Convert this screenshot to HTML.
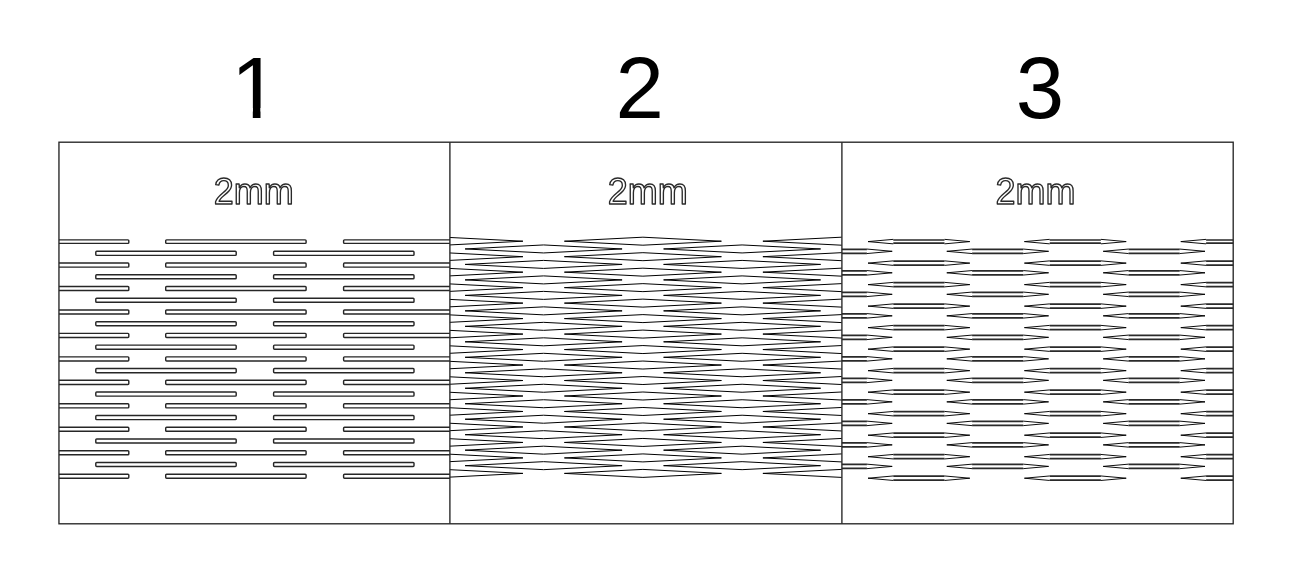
<!DOCTYPE html>
<html lang="en"><head><meta charset="utf-8"><title>Living hinge patterns 1 2 3 - 2mm</title>
<style>html,body{margin:0;padding:0;background:#fff}body{width:1296px;height:573px;overflow:hidden}svg{display:block}.num{font-family:"Liberation Sans",Arial,sans-serif;font-size:87px;fill:#000}.mm{font-family:"Liberation Sans",Arial,sans-serif;font-size:36px;fill:none;stroke:#2a2a2a;stroke-width:1.35;stroke-linejoin:round}.b{fill:none;stroke:#262626;stroke-width:1.35}.s1{fill:none;stroke:#262626;stroke-width:1.45}.s2{fill:none;stroke:#000;stroke-width:1;stroke-linejoin:miter}.s3{fill:none;stroke:#2a2a2a;stroke-width:1.7}.s3t{fill:none;stroke:#000;stroke-width:0.95}</style></head><body>
<svg width="1296" height="573" viewBox="0 0 1296 573">
<rect width="1296" height="573" fill="#fff"/>
<defs>
<clipPath id="c1"><rect x="58.95" y="142.2" width="390.95" height="381.6"/></clipPath>
<clipPath id="c2"><rect x="449.9" y="142.2" width="392" height="381.6"/></clipPath>
<clipPath id="c3"><rect x="841.9" y="142.2" width="391.3" height="381.6"/></clipPath>
</defs>
<defs><clipPath id="k1"><path d="M200 20H320V108H260.5V125H252.8V108H200Z"/></clipPath></defs>
<text class="num" x="230.9" y="118.4" clip-path="url(#k1)">1</text>
<text class="num" x="615.6" y="118.4">2</text>
<text class="num" x="1015.7" y="118.4">3</text>
<defs><filter id="nf" x="0" y="0" width="1296" height="573" filterUnits="userSpaceOnUse"><feOffset dx="0" dy="0"/></filter></defs>
<g filter="url(#nf)">
<text class="mm" x="213.8" y="204.2">2mm</text>
<text class="mm" x="607.8" y="204.2">2mm</text>
<text class="mm" x="995.5" y="204.2">2mm</text>
</g>
<g clip-path="url(#c1)" class="s1">
<rect x="-11.6" y="239.85" width="140.4" height="3.5" rx="0.9"/>
<rect x="165.7" y="239.85" width="140.4" height="3.5" rx="0.9"/>
<rect x="343.6" y="239.85" width="140.4" height="3.5" rx="0.9"/>
<rect x="95.8" y="251.28" width="140.4" height="4.1" rx="0.9"/>
<rect x="273.6" y="251.28" width="140.4" height="4.1" rx="0.9"/>
<rect x="-11.6" y="263.01" width="140.4" height="4.1" rx="0.9"/>
<rect x="165.7" y="263.01" width="140.4" height="4.1" rx="0.9"/>
<rect x="343.6" y="263.01" width="140.4" height="4.1" rx="0.9"/>
<rect x="95.8" y="274.74" width="140.4" height="4.1" rx="0.9"/>
<rect x="273.6" y="274.74" width="140.4" height="4.1" rx="0.9"/>
<rect x="-11.6" y="286.47" width="140.4" height="4.1" rx="0.9"/>
<rect x="165.7" y="286.47" width="140.4" height="4.1" rx="0.9"/>
<rect x="343.6" y="286.47" width="140.4" height="4.1" rx="0.9"/>
<rect x="95.8" y="298.2" width="140.4" height="4.1" rx="0.9"/>
<rect x="273.6" y="298.2" width="140.4" height="4.1" rx="0.9"/>
<rect x="-11.6" y="309.93" width="140.4" height="4.1" rx="0.9"/>
<rect x="165.7" y="309.93" width="140.4" height="4.1" rx="0.9"/>
<rect x="343.6" y="309.93" width="140.4" height="4.1" rx="0.9"/>
<rect x="95.8" y="321.66" width="140.4" height="4.1" rx="0.9"/>
<rect x="273.6" y="321.66" width="140.4" height="4.1" rx="0.9"/>
<rect x="-11.6" y="333.39" width="140.4" height="4.1" rx="0.9"/>
<rect x="165.7" y="333.39" width="140.4" height="4.1" rx="0.9"/>
<rect x="343.6" y="333.39" width="140.4" height="4.1" rx="0.9"/>
<rect x="95.8" y="345.12" width="140.4" height="4.1" rx="0.9"/>
<rect x="273.6" y="345.12" width="140.4" height="4.1" rx="0.9"/>
<rect x="-11.6" y="356.85" width="140.4" height="4.1" rx="0.9"/>
<rect x="165.7" y="356.85" width="140.4" height="4.1" rx="0.9"/>
<rect x="343.6" y="356.85" width="140.4" height="4.1" rx="0.9"/>
<rect x="95.8" y="368.58" width="140.4" height="4.1" rx="0.9"/>
<rect x="273.6" y="368.58" width="140.4" height="4.1" rx="0.9"/>
<rect x="-11.6" y="380.31" width="140.4" height="4.1" rx="0.9"/>
<rect x="165.7" y="380.31" width="140.4" height="4.1" rx="0.9"/>
<rect x="343.6" y="380.31" width="140.4" height="4.1" rx="0.9"/>
<rect x="95.8" y="392.04" width="140.4" height="4.1" rx="0.9"/>
<rect x="273.6" y="392.04" width="140.4" height="4.1" rx="0.9"/>
<rect x="-11.6" y="403.77" width="140.4" height="4.1" rx="0.9"/>
<rect x="165.7" y="403.77" width="140.4" height="4.1" rx="0.9"/>
<rect x="343.6" y="403.77" width="140.4" height="4.1" rx="0.9"/>
<rect x="95.8" y="415.5" width="140.4" height="4.1" rx="0.9"/>
<rect x="273.6" y="415.5" width="140.4" height="4.1" rx="0.9"/>
<rect x="-11.6" y="427.23" width="140.4" height="4.1" rx="0.9"/>
<rect x="165.7" y="427.23" width="140.4" height="4.1" rx="0.9"/>
<rect x="343.6" y="427.23" width="140.4" height="4.1" rx="0.9"/>
<rect x="95.8" y="438.96" width="140.4" height="4.1" rx="0.9"/>
<rect x="273.6" y="438.96" width="140.4" height="4.1" rx="0.9"/>
<rect x="-11.6" y="450.69" width="140.4" height="4.1" rx="0.9"/>
<rect x="165.7" y="450.69" width="140.4" height="4.1" rx="0.9"/>
<rect x="343.6" y="450.69" width="140.4" height="4.1" rx="0.9"/>
<rect x="95.8" y="462.42" width="140.4" height="4.1" rx="0.9"/>
<rect x="273.6" y="462.42" width="140.4" height="4.1" rx="0.9"/>
<rect x="-11.6" y="474.15" width="140.4" height="4.1" rx="0.9"/>
<rect x="165.7" y="474.15" width="140.4" height="4.1" rx="0.9"/>
<rect x="343.6" y="474.15" width="140.4" height="4.1" rx="0.9"/>
</g>
<g clip-path="url(#c2)" class="s2">
<path d="M365.9 241.2L444.4 237.2L522.9 241.2L444.4 245.2ZM564.4 241.2L642.9 237.2L721.4 241.2L642.9 245.2ZM762.9 241.2L841.4 237.2L919.9 241.2L841.4 245.2ZM465.1 248.94L543.6 244.94L622.1 248.94L543.6 252.94ZM663.6 248.94L742.1 244.94L820.6 248.94L742.1 252.94ZM365.9 256.68L444.4 252.68L522.9 256.68L444.4 260.68ZM564.4 256.68L642.9 252.68L721.4 256.68L642.9 260.68ZM762.9 256.68L841.4 252.68L919.9 256.68L841.4 260.68ZM465.1 264.42L543.6 260.42L622.1 264.42L543.6 268.42ZM663.6 264.42L742.1 260.42L820.6 264.42L742.1 268.42ZM365.9 272.16L444.4 268.16L522.9 272.16L444.4 276.16ZM564.4 272.16L642.9 268.16L721.4 272.16L642.9 276.16ZM762.9 272.16L841.4 268.16L919.9 272.16L841.4 276.16ZM465.1 279.9L543.6 275.9L622.1 279.9L543.6 283.9ZM663.6 279.9L742.1 275.9L820.6 279.9L742.1 283.9ZM365.9 287.64L444.4 283.64L522.9 287.64L444.4 291.64ZM564.4 287.64L642.9 283.64L721.4 287.64L642.9 291.64ZM762.9 287.64L841.4 283.64L919.9 287.64L841.4 291.64ZM465.1 295.38L543.6 291.38L622.1 295.38L543.6 299.38ZM663.6 295.38L742.1 291.38L820.6 295.38L742.1 299.38ZM365.9 303.12L444.4 299.12L522.9 303.12L444.4 307.12ZM564.4 303.12L642.9 299.12L721.4 303.12L642.9 307.12ZM762.9 303.12L841.4 299.12L919.9 303.12L841.4 307.12ZM465.1 310.86L543.6 306.86L622.1 310.86L543.6 314.86ZM663.6 310.86L742.1 306.86L820.6 310.86L742.1 314.86ZM365.9 318.6L444.4 314.6L522.9 318.6L444.4 322.6ZM564.4 318.6L642.9 314.6L721.4 318.6L642.9 322.6ZM762.9 318.6L841.4 314.6L919.9 318.6L841.4 322.6ZM465.1 326.34L543.6 322.34L622.1 326.34L543.6 330.34ZM663.6 326.34L742.1 322.34L820.6 326.34L742.1 330.34ZM365.9 334.08L444.4 330.08L522.9 334.08L444.4 338.08ZM564.4 334.08L642.9 330.08L721.4 334.08L642.9 338.08ZM762.9 334.08L841.4 330.08L919.9 334.08L841.4 338.08ZM465.1 341.82L543.6 337.82L622.1 341.82L543.6 345.82ZM663.6 341.82L742.1 337.82L820.6 341.82L742.1 345.82ZM365.9 349.56L444.4 345.56L522.9 349.56L444.4 353.56ZM564.4 349.56L642.9 345.56L721.4 349.56L642.9 353.56ZM762.9 349.56L841.4 345.56L919.9 349.56L841.4 353.56ZM465.1 357.3L543.6 353.3L622.1 357.3L543.6 361.3ZM663.6 357.3L742.1 353.3L820.6 357.3L742.1 361.3ZM365.9 365.04L444.4 361.04L522.9 365.04L444.4 369.04ZM564.4 365.04L642.9 361.04L721.4 365.04L642.9 369.04ZM762.9 365.04L841.4 361.04L919.9 365.04L841.4 369.04ZM465.1 372.78L543.6 368.78L622.1 372.78L543.6 376.78ZM663.6 372.78L742.1 368.78L820.6 372.78L742.1 376.78ZM365.9 380.52L444.4 376.52L522.9 380.52L444.4 384.52ZM564.4 380.52L642.9 376.52L721.4 380.52L642.9 384.52ZM762.9 380.52L841.4 376.52L919.9 380.52L841.4 384.52ZM465.1 388.26L543.6 384.26L622.1 388.26L543.6 392.26ZM663.6 388.26L742.1 384.26L820.6 388.26L742.1 392.26ZM365.9 396L444.4 392L522.9 396L444.4 400ZM564.4 396L642.9 392L721.4 396L642.9 400ZM762.9 396L841.4 392L919.9 396L841.4 400ZM465.1 403.74L543.6 399.74L622.1 403.74L543.6 407.74ZM663.6 403.74L742.1 399.74L820.6 403.74L742.1 407.74ZM365.9 411.48L444.4 407.48L522.9 411.48L444.4 415.48ZM564.4 411.48L642.9 407.48L721.4 411.48L642.9 415.48ZM762.9 411.48L841.4 407.48L919.9 411.48L841.4 415.48ZM465.1 419.22L543.6 415.22L622.1 419.22L543.6 423.22ZM663.6 419.22L742.1 415.22L820.6 419.22L742.1 423.22ZM365.9 426.96L444.4 422.96L522.9 426.96L444.4 430.96ZM564.4 426.96L642.9 422.96L721.4 426.96L642.9 430.96ZM762.9 426.96L841.4 422.96L919.9 426.96L841.4 430.96ZM465.1 434.7L543.6 430.7L622.1 434.7L543.6 438.7ZM663.6 434.7L742.1 430.7L820.6 434.7L742.1 438.7ZM365.9 442.44L444.4 438.44L522.9 442.44L444.4 446.44ZM564.4 442.44L642.9 438.44L721.4 442.44L642.9 446.44ZM762.9 442.44L841.4 438.44L919.9 442.44L841.4 446.44ZM465.1 450.18L543.6 446.18L622.1 450.18L543.6 454.18ZM663.6 450.18L742.1 446.18L820.6 450.18L742.1 454.18ZM365.9 457.92L444.4 453.92L522.9 457.92L444.4 461.92ZM564.4 457.92L642.9 453.92L721.4 457.92L642.9 461.92ZM762.9 457.92L841.4 453.92L919.9 457.92L841.4 461.92ZM465.1 465.66L543.6 461.66L622.1 465.66L543.6 469.66ZM663.6 465.66L742.1 461.66L820.6 465.66L742.1 469.66ZM365.9 473.4L444.4 469.4L522.9 473.4L444.4 477.4ZM564.4 473.4L642.9 469.4L721.4 473.4L642.9 477.4ZM762.9 473.4L841.4 469.4L919.9 473.4L841.4 477.4Z"/>
</g>
<g clip-path="url(#c3)">
<path class="s3" d="M893.3 240H944.5M893.3 243.2H944.5M1049.7 240H1100.9M1049.7 243.2H1100.9M1206.1 240H1257.3M1206.1 243.2H1257.3M893.3 261.11H944.5M893.3 265.11H944.5M1049.7 261.11H1100.9M1049.7 265.11H1100.9M1206.1 261.11H1257.3M1206.1 265.11H1257.3M893.3 282.62H944.5M893.3 286.62H944.5M1049.7 282.62H1100.9M1049.7 286.62H1100.9M1206.1 282.62H1257.3M1206.1 286.62H1257.3M893.3 304.13H944.5M893.3 308.13H944.5M1049.7 304.13H1100.9M1049.7 308.13H1100.9M1206.1 304.13H1257.3M1206.1 308.13H1257.3M893.3 325.64H944.5M893.3 329.64H944.5M1049.7 325.64H1100.9M1049.7 329.64H1100.9M1206.1 325.64H1257.3M1206.1 329.64H1257.3M893.3 347.15H944.5M893.3 351.15H944.5M1049.7 347.15H1100.9M1049.7 351.15H1100.9M1206.1 347.15H1257.3M1206.1 351.15H1257.3M893.3 368.66H944.5M893.3 372.66H944.5M1049.7 368.66H1100.9M1049.7 372.66H1100.9M1206.1 368.66H1257.3M1206.1 372.66H1257.3M893.3 390.17H944.5M893.3 394.17H944.5M1049.7 390.17H1100.9M1049.7 394.17H1100.9M1206.1 390.17H1257.3M1206.1 394.17H1257.3M893.3 411.68H944.5M893.3 415.68H944.5M1049.7 411.68H1100.9M1049.7 415.68H1100.9M1206.1 411.68H1257.3M1206.1 415.68H1257.3M893.3 433.19H944.5M893.3 437.19H944.5M1049.7 433.19H1100.9M1049.7 437.19H1100.9M1206.1 433.19H1257.3M1206.1 437.19H1257.3M893.3 454.7H944.5M893.3 458.7H944.5M1049.7 454.7H1100.9M1049.7 458.7H1100.9M1206.1 454.7H1257.3M1206.1 458.7H1257.3M893.3 476.21H944.5M893.3 480.21H944.5M1049.7 476.21H1100.9M1049.7 480.21H1100.9M1206.1 476.21H1257.3M1206.1 480.21H1257.3M815.7 249.3H866.9M815.7 253.3H866.9M972.1 249.3H1023.3M972.1 253.3H1023.3M1128.5 249.3H1179.7M1128.5 253.3H1179.7M815.7 270.81H866.9M815.7 274.81H866.9M972.1 270.81H1023.3M972.1 274.81H1023.3M1128.5 270.81H1179.7M1128.5 274.81H1179.7M815.7 292.32H866.9M815.7 296.32H866.9M972.1 292.32H1023.3M972.1 296.32H1023.3M1128.5 292.32H1179.7M1128.5 296.32H1179.7M815.7 313.83H866.9M815.7 317.83H866.9M972.1 313.83H1023.3M972.1 317.83H1023.3M1128.5 313.83H1179.7M1128.5 317.83H1179.7M815.7 335.34H866.9M815.7 339.34H866.9M972.1 335.34H1023.3M972.1 339.34H1023.3M1128.5 335.34H1179.7M1128.5 339.34H1179.7M815.7 356.85H866.9M815.7 360.85H866.9M972.1 356.85H1023.3M972.1 360.85H1023.3M1128.5 356.85H1179.7M1128.5 360.85H1179.7M815.7 378.36H866.9M815.7 382.36H866.9M972.1 378.36H1023.3M972.1 382.36H1023.3M1128.5 378.36H1179.7M1128.5 382.36H1179.7M815.7 399.87H866.9M815.7 403.87H866.9M972.1 399.87H1023.3M972.1 403.87H1023.3M1128.5 399.87H1179.7M1128.5 403.87H1179.7M815.7 421.38H866.9M815.7 425.38H866.9M972.1 421.38H1023.3M972.1 425.38H1023.3M1128.5 421.38H1179.7M1128.5 425.38H1179.7M815.7 442.89H866.9M815.7 446.89H866.9M972.1 442.89H1023.3M972.1 446.89H1023.3M1128.5 442.89H1179.7M1128.5 446.89H1179.7M815.7 464.4H866.9M815.7 468.4H866.9M972.1 464.4H1023.3M972.1 468.4H1023.3M1128.5 464.4H1179.7M1128.5 468.4H1179.7"/>
<path class="s3t" d="M893.3 239.35L868 241.6L893.3 243.85M944.5 239.35L969.8 241.6L944.5 243.85M1049.7 239.35L1024.4 241.6L1049.7 243.85M1100.9 239.35L1126.2 241.6L1100.9 243.85M1206.1 239.35L1180.8 241.6L1206.1 243.85M1257.3 239.35L1282.6 241.6L1257.3 243.85M893.3 260.86L868 263.11L893.3 265.36M944.5 260.86L969.8 263.11L944.5 265.36M1049.7 260.86L1024.4 263.11L1049.7 265.36M1100.9 260.86L1126.2 263.11L1100.9 265.36M1206.1 260.86L1180.8 263.11L1206.1 265.36M1257.3 260.86L1282.6 263.11L1257.3 265.36M893.3 282.37L868 284.62L893.3 286.87M944.5 282.37L969.8 284.62L944.5 286.87M1049.7 282.37L1024.4 284.62L1049.7 286.87M1100.9 282.37L1126.2 284.62L1100.9 286.87M1206.1 282.37L1180.8 284.62L1206.1 286.87M1257.3 282.37L1282.6 284.62L1257.3 286.87M893.3 303.88L868 306.13L893.3 308.38M944.5 303.88L969.8 306.13L944.5 308.38M1049.7 303.88L1024.4 306.13L1049.7 308.38M1100.9 303.88L1126.2 306.13L1100.9 308.38M1206.1 303.88L1180.8 306.13L1206.1 308.38M1257.3 303.88L1282.6 306.13L1257.3 308.38M893.3 325.39L868 327.64L893.3 329.89M944.5 325.39L969.8 327.64L944.5 329.89M1049.7 325.39L1024.4 327.64L1049.7 329.89M1100.9 325.39L1126.2 327.64L1100.9 329.89M1206.1 325.39L1180.8 327.64L1206.1 329.89M1257.3 325.39L1282.6 327.64L1257.3 329.89M893.3 346.9L868 349.15L893.3 351.4M944.5 346.9L969.8 349.15L944.5 351.4M1049.7 346.9L1024.4 349.15L1049.7 351.4M1100.9 346.9L1126.2 349.15L1100.9 351.4M1206.1 346.9L1180.8 349.15L1206.1 351.4M1257.3 346.9L1282.6 349.15L1257.3 351.4M893.3 368.41L868 370.66L893.3 372.91M944.5 368.41L969.8 370.66L944.5 372.91M1049.7 368.41L1024.4 370.66L1049.7 372.91M1100.9 368.41L1126.2 370.66L1100.9 372.91M1206.1 368.41L1180.8 370.66L1206.1 372.91M1257.3 368.41L1282.6 370.66L1257.3 372.91M893.3 389.92L868 392.17L893.3 394.42M944.5 389.92L969.8 392.17L944.5 394.42M1049.7 389.92L1024.4 392.17L1049.7 394.42M1100.9 389.92L1126.2 392.17L1100.9 394.42M1206.1 389.92L1180.8 392.17L1206.1 394.42M1257.3 389.92L1282.6 392.17L1257.3 394.42M893.3 411.43L868 413.68L893.3 415.93M944.5 411.43L969.8 413.68L944.5 415.93M1049.7 411.43L1024.4 413.68L1049.7 415.93M1100.9 411.43L1126.2 413.68L1100.9 415.93M1206.1 411.43L1180.8 413.68L1206.1 415.93M1257.3 411.43L1282.6 413.68L1257.3 415.93M893.3 432.94L868 435.19L893.3 437.44M944.5 432.94L969.8 435.19L944.5 437.44M1049.7 432.94L1024.4 435.19L1049.7 437.44M1100.9 432.94L1126.2 435.19L1100.9 437.44M1206.1 432.94L1180.8 435.19L1206.1 437.44M1257.3 432.94L1282.6 435.19L1257.3 437.44M893.3 454.45L868 456.7L893.3 458.95M944.5 454.45L969.8 456.7L944.5 458.95M1049.7 454.45L1024.4 456.7L1049.7 458.95M1100.9 454.45L1126.2 456.7L1100.9 458.95M1206.1 454.45L1180.8 456.7L1206.1 458.95M1257.3 454.45L1282.6 456.7L1257.3 458.95M893.3 475.96L868 478.21L893.3 480.46M944.5 475.96L969.8 478.21L944.5 480.46M1049.7 475.96L1024.4 478.21L1049.7 480.46M1100.9 475.96L1126.2 478.21L1100.9 480.46M1206.1 475.96L1180.8 478.21L1206.1 480.46M1257.3 475.96L1282.6 478.21L1257.3 480.46M815.7 249.05L790.4 251.3L815.7 253.55M866.9 249.05L892.2 251.3L866.9 253.55M972.1 249.05L946.8 251.3L972.1 253.55M1023.3 249.05L1048.6 251.3L1023.3 253.55M1128.5 249.05L1103.2 251.3L1128.5 253.55M1179.7 249.05L1205 251.3L1179.7 253.55M815.7 270.56L790.4 272.81L815.7 275.06M866.9 270.56L892.2 272.81L866.9 275.06M972.1 270.56L946.8 272.81L972.1 275.06M1023.3 270.56L1048.6 272.81L1023.3 275.06M1128.5 270.56L1103.2 272.81L1128.5 275.06M1179.7 270.56L1205 272.81L1179.7 275.06M815.7 292.07L790.4 294.32L815.7 296.57M866.9 292.07L892.2 294.32L866.9 296.57M972.1 292.07L946.8 294.32L972.1 296.57M1023.3 292.07L1048.6 294.32L1023.3 296.57M1128.5 292.07L1103.2 294.32L1128.5 296.57M1179.7 292.07L1205 294.32L1179.7 296.57M815.7 313.58L790.4 315.83L815.7 318.08M866.9 313.58L892.2 315.83L866.9 318.08M972.1 313.58L946.8 315.83L972.1 318.08M1023.3 313.58L1048.6 315.83L1023.3 318.08M1128.5 313.58L1103.2 315.83L1128.5 318.08M1179.7 313.58L1205 315.83L1179.7 318.08M815.7 335.09L790.4 337.34L815.7 339.59M866.9 335.09L892.2 337.34L866.9 339.59M972.1 335.09L946.8 337.34L972.1 339.59M1023.3 335.09L1048.6 337.34L1023.3 339.59M1128.5 335.09L1103.2 337.34L1128.5 339.59M1179.7 335.09L1205 337.34L1179.7 339.59M815.7 356.6L790.4 358.85L815.7 361.1M866.9 356.6L892.2 358.85L866.9 361.1M972.1 356.6L946.8 358.85L972.1 361.1M1023.3 356.6L1048.6 358.85L1023.3 361.1M1128.5 356.6L1103.2 358.85L1128.5 361.1M1179.7 356.6L1205 358.85L1179.7 361.1M815.7 378.11L790.4 380.36L815.7 382.61M866.9 378.11L892.2 380.36L866.9 382.61M972.1 378.11L946.8 380.36L972.1 382.61M1023.3 378.11L1048.6 380.36L1023.3 382.61M1128.5 378.11L1103.2 380.36L1128.5 382.61M1179.7 378.11L1205 380.36L1179.7 382.61M815.7 399.62L790.4 401.87L815.7 404.12M866.9 399.62L892.2 401.87L866.9 404.12M972.1 399.62L946.8 401.87L972.1 404.12M1023.3 399.62L1048.6 401.87L1023.3 404.12M1128.5 399.62L1103.2 401.87L1128.5 404.12M1179.7 399.62L1205 401.87L1179.7 404.12M815.7 421.13L790.4 423.38L815.7 425.63M866.9 421.13L892.2 423.38L866.9 425.63M972.1 421.13L946.8 423.38L972.1 425.63M1023.3 421.13L1048.6 423.38L1023.3 425.63M1128.5 421.13L1103.2 423.38L1128.5 425.63M1179.7 421.13L1205 423.38L1179.7 425.63M815.7 442.64L790.4 444.89L815.7 447.14M866.9 442.64L892.2 444.89L866.9 447.14M972.1 442.64L946.8 444.89L972.1 447.14M1023.3 442.64L1048.6 444.89L1023.3 447.14M1128.5 442.64L1103.2 444.89L1128.5 447.14M1179.7 442.64L1205 444.89L1179.7 447.14M815.7 464.15L790.4 466.4L815.7 468.65M866.9 464.15L892.2 466.4L866.9 468.65M972.1 464.15L946.8 466.4L972.1 468.65M1023.3 464.15L1048.6 466.4L1023.3 468.65M1128.5 464.15L1103.2 466.4L1128.5 468.65M1179.7 464.15L1205 466.4L1179.7 468.65"/>
</g>
<rect class="b" x="58.95" y="142.2" width="1174.25" height="381.6"/>
<path class="b" d="M449.9 142.2V523.8M841.9 142.2V523.8"/>
</svg></body></html>
